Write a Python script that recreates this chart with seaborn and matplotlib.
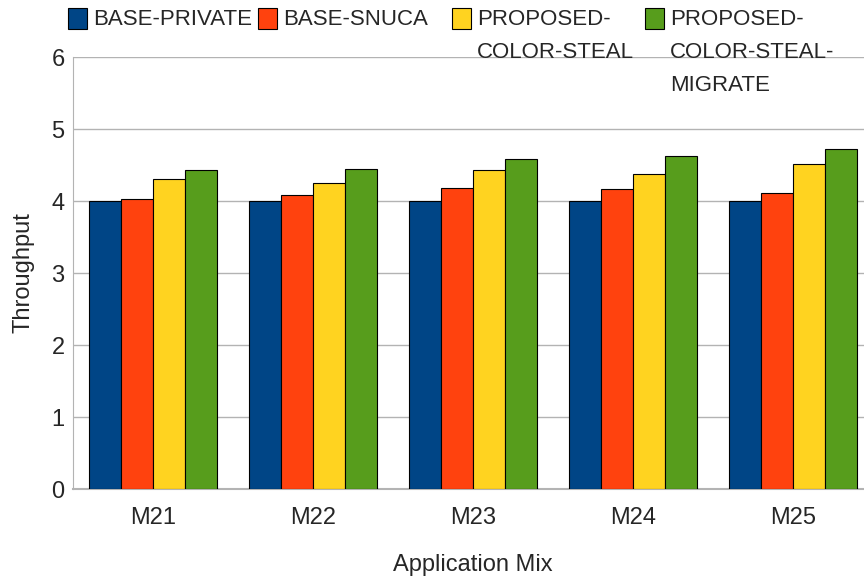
import seaborn as sns
import matplotlib.pyplot as plt
import matplotlib
import pandas as pd
from matplotlib.patches import Rectangle
matplotlib.use('Agg')

mixes = ['M21', 'M22', 'M23', 'M24', 'M25']
configs = ['BASE-PRIVATE', 'BASE-SNUCA', 'PROPOSED-COLOR-STEAL', 'PROPOSED-COLOR-STEAL-MIGRATE']
legend_labels = ['BASE-PRIVATE', 'BASE-SNUCA', 'PROPOSED-\nCOLOR-STEAL', 'PROPOSED-\nCOLOR-STEAL-\nMIGRATE']
base_private = [4.00, 4.00, 4.00, 4.00, 4.00]
base_snuca = [4.03, 4.09, 4.18, 4.16, 4.11]
color_steal = [4.31, 4.25, 4.43, 4.37, 4.52]
color_steal_migrate = [4.43, 4.45, 4.59, 4.62, 4.72]
colors = ['#004586', '#ff420e', '#ffd320', '#579d1c']

rows = []
for cfg, vals in zip(configs, [base_private, base_snuca, color_steal, color_steal_migrate]):
    for m, v in zip(mixes, vals):
        rows.append({'mix': m, 'config': cfg, 'value': v})
df = pd.DataFrame(rows)

sns.set_style("white")
plt.rcParams['font.family'] = ['Liberation Sans', 'DejaVu Sans']

fig = plt.figure(figsize=(8.64, 5.8), dpi=100)
ax = fig.add_axes([73/864, 91/580, 800/864, 432/580])

sns.barplot(data=df, x='mix', y='value', hue='config', palette=colors, width=0.8,
            edgecolor='black', linewidth=0.8, saturation=1, legend=False, ax=ax, zorder=3)

ax.set_ylim(0, 6)
ax.set_xlim(-0.5, 4.5)
ax.set_yticks(range(0, 7))
ax.yaxis.grid(True, color='#b3b3b3', linewidth=1, zorder=0)
ax.set_axisbelow(True)
for s in ['top', 'right']:
    ax.spines[s].set_visible(False)
ax.spines['left'].set_color('#b3b3b3')
ax.spines['bottom'].set_color('#b3b3b3')
ax.spines['bottom'].set_linewidth(1.5)
ax.tick_params(axis='x', length=5, color='#b3b3b3', labelsize=17, pad=8)
ax.tick_params(axis='y', direction='out', length=4, color='#b3b3b3', labelsize=17, pad=2)
ax.set_xlabel('Application Mix', fontsize=17, labelpad=18)
ax.set_ylabel('Throughput', fontsize=17, labelpad=12)

# legend across the top
leg_x = [68, 258, 452, 645]
for x, c, lab in zip(leg_x, colors, legend_labels):
    fig.patches.append(Rectangle((x/864, 1 - 29/580), 19/864, 21/580, transform=fig.transFigure,
                                 facecolor=c, edgecolor='black', linewidth=0.8, figure=fig))
    fig.text((x + 25)/864, 1 - 9/580, lab, fontsize=16, va='top', ha='left', linespacing=1.75)

fig.savefig('out.png', dpi=100)
